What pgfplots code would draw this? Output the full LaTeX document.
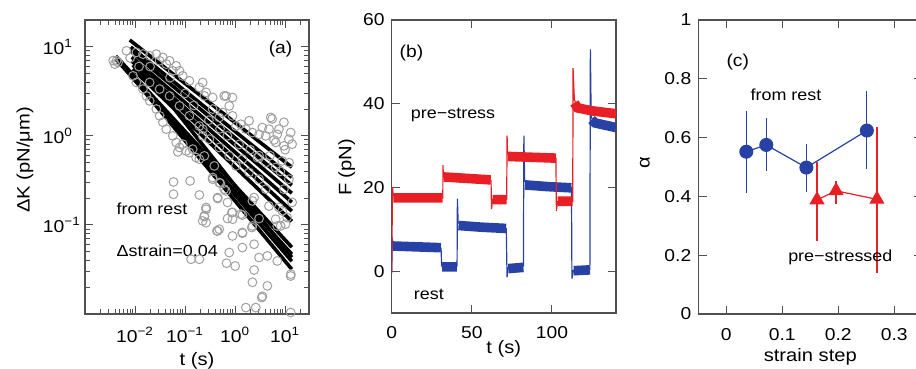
\documentclass[border=0pt]{standalone}
\usepackage{fontspec}
\setmainfont{Liberation Sans}[FakeStretch=1.12]
\usepackage{pgfplots}
\pgfplotsset{compat=1.18}

\definecolor{myred}{RGB}{232,32,38}
\definecolor{myblue}{RGB}{40,65,165}
\definecolor{circgray}{RGB}{160,160,160}
\definecolor{axgray}{RGB}{80,80,80}

\pgfplotsset{
  panel/.style={
    scale only axis,
    axis line style={draw=axgray, line width=0.6pt},
    tick style={draw=axgray, line width=0.5pt},
    major tick length=4.2pt, minor tick length=2.5pt,
    tick label style={font=\fontsize{8.6}{10}\selectfont, text=black},
    label style={font=\fontsize{9}{11}\selectfont},
    /pgf/number format/assume math mode=true,
  },
  fitline/.style={black, line width=1.8pt},
}

\pgfplotstableread{
x y
0.0587 0.304
0.126 0.312
0.0587 0.221
0.193 0.217
0.356 0.326
0.506 0.294
0.656 0.241
0.447 0.198
0.706 0.179
0.263 0.150
0.243 0.124
0.225 0.111
0.863 0.138
0.706 0.118
1.40 0.129
2.22 0.186
1.40 0.0807
0.434 0.0857
2.16 0.0935
0.132 0.0412
0.193 0.0412
0.764 0.049
1.40 0.0557
0.675 0.0372
1.005 0.0346
2.40 0.0312
3.01 0.0431
4.41 0.0449
6.97 0.0394
12.9 0.0267
4.41 0.0207
3.41 0.0153
1.64 0.0118
2.59 0.0118
12.9 0.0104
6.97 0.0975
10.2 0.102
6.47 0.116
3.01 0.118
4.76 0.163
8.75 0.144
13.8 0.179
0.483 0.0895
0.89 0.116
2.40 0.0607
2.22 0.0227
3.51 0.0158
13.0 0.028
0.607 2.81
0.764 2.17
5.15 1.61
9.46 1.42
12.9 1.09
7.53 1.19
4.76 1.19
3.51 1.24
1.91 1.48
1.30 1.35
6.97 1.04
11.9 0.918
13.8 0.807
6.47 0.843
9.46 0.773
4.09 1.0
3.01 1.04
2.22 1.09
1.64 1.19
1.04 1.29
0.887 1.68
0.483 1.61
0.356 2.00
0.243 2.81
0.356 2.70
0.562 1.83
0.356 0.341
0.483 0.299
0.607 0.252
0.447 0.203
0.263 0.157
0.243 0.126
0.263 0.106
0.887 0.138
1.30 0.132
2.40 0.203
4.09 0.252
3.01 0.326
6.47 0.442
8.75 0.524
11.9 0.326
9.46 0.252
7.53 0.157
11.0 0.121
8.15 0.0975
1.40 0.0822
2.22 0.0975
0.447 0.0857
0.887 0.0752
1.40 0.547
1.04 0.460
1.91 0.388
0.764 0.596
2.79 0.571
4.09 0.502
0.483 0.741
0.305 0.918
0.225 1.19
0.243 0.596
0.384 0.460
0.00427 6.97
0.00459 6.68
0.00675 9.02
0.01067 8.65
0.0144 8.28
0.0196 7.93
0.0266 8.28
0.0361 7.60
0.049 6.97
0.0665 6.12
0.0774 5.37
0.031 6.97
0.0421 6.40
0.0569 5.37
0.0899 4.72
0.122 4.15
0.193 3.50
0.263 3.08
0.0169 2.81
0.0196 2.47
0.0266 2.00
0.031 1.68
0.0361 1.42
0.0421 1.19
0.0569 1.0
0.0665 0.843
0.0774 0.741
0.0899 0.807
0.105 0.678
0.122 0.650
0.166 0.571
0.193 0.547
0.0716 0.661
0.142 0.710
0.0144 3.35
0.01067 3.98
0.00912 4.72
0.0196 3.98
0.031 3.35
0.049 2.81
0.0774 2.17
0.122 1.68
0.193 1.29
0.225 1.0
0.00394 6.40
0.00366 7.0
5.5 1.55
0.887 2.70
0.225 3.98
0.66 2.8
0.5 1.2
0.7 1.0
1.2 0.8
2.0 0.7
3.0 0.6
5.0 0.6
8.0 0.4
12.0 0.5
10.0 0.7
6.0 0.9
0.15 2.2
0.1 3.0
0.3 1.5
0.05 4.5
0.02 6.0
0.008 7.5
0.012 6.0
}\circdata

\begin{document}
\begin{tikzpicture}
\useasboundingbox (0,0) rectangle (458pt,-184.5pt);

% ---------------- panel (a) ----------------
\begin{axis}[panel,
  at={(42.5pt,-10pt)}, anchor=north west,
  width=112pt, height=147pt,
  xmode=log, ymode=log,
  xmin=0.001, xmax=30, ymin=0.01, ymax=20,
  xtick={0.001,0.01,0.1,1,10},
  xticklabels={{},{10\textsuperscript{−2}},{10\textsuperscript{−1}},{10\textsuperscript{0}},{10\textsuperscript{1}}},
  ytick={0.01,0.1,1,10},
  yticklabels={{},{10\textsuperscript{−1}},{10\textsuperscript{0}},{10\textsuperscript{1}}},
  minor xtick={0.002,0.003,0.004,0.005,0.006,0.007,0.008,0.009,0.02,0.03,0.04,0.05,0.06,0.07,0.08,0.09,0.2,0.3,0.4,0.5,0.6,0.7,0.8,0.9,2,3,4,5,6,7,8,9,20,30},
  minor ytick={0.02,0.03,0.04,0.05,0.06,0.07,0.08,0.09,0.2,0.3,0.4,0.5,0.6,0.7,0.8,0.9,2,3,4,5,6,7,8,9,20},
  xticklabel style={anchor=center, yshift=-10.5pt},
  yticklabel style={anchor=west, inner sep=0pt, xshift=-21.2pt},
  xlabel={t (s)}, ylabel={ΔK (pN/μm)},
  xlabel style={at={(axis description cs:0.5,0)}, anchor=center, yshift=-23.5pt},
  ylabel style={at={(axis description cs:-0.268,0.524)}, anchor=center},
]
\addplot[only marks, mark=o, mark size=2.2pt, draw=circgray, mark options={line width=0.5pt}] table[x=x,y=y] {\circdata};
\addplot[fitline] coordinates {(0.00785,11.9) (13.6,0.445)};
\addplot[fitline] coordinates {(0.00822,9.93) (13.6,0.343)};
\addplot[fitline] coordinates {(0.00822,8.95) (13.6,0.279)};
\addplot[fitline] coordinates {(0.00859,7.66) (13.6,0.227)};
\addplot[fitline] coordinates {(0.00859,6.91) (13.6,0.180)};
\addplot[fitline] coordinates {(0.0090,6.22) (13.6,0.143)};
\addplot[fitline] coordinates {(0.0090,5.61) (13.6,0.110)};
\addplot[fitline] coordinates {(0.00413,7.87) (13.6,0.0562)};
\addplot[fitline] coordinates {(0.00413,7.28) (13.6,0.0469)};
\addplot[fitline] coordinates {(0.00453,7.47) (13.6,0.0391)};
\addplot[fitline] coordinates {(0.00497,6.73) (13.6,0.0318)};
\addplot[fitline] coordinates {(0.00986,7.28) (13.6,0.0433)};
\node[font=\fontsize{8.6}{10}\selectfont] at (axis cs:8.1,9.4) {(a)};
\node[font=\fontsize{8}{10}\selectfont, anchor=west] at (axis cs:0.0031,0.15) {from rest};
\node[font=\fontsize{8}{10}\selectfont, anchor=west] at (axis cs:0.0031,0.051) {Δstrain=0.04};
\end{axis}

% ---------------- panel (b) ----------------
\begin{axis}[panel,
  at={(195.85pt,-10pt)}, anchor=north west,
  width=112.15pt, height=146.5pt,
  xmin=0, xmax=140, ymin=-10, ymax=60,
  xtick={0,50,100}, ytick={0,20,40,60},
  xticklabel style={anchor=center, yshift=-9.75pt},
  xlabel={t (s)}, ylabel={F (pN)},
  xlabel style={at={(axis description cs:0.5,0)}, anchor=center, yshift=-18.1pt},
  ylabel style={at={(axis description cs:-0.2006,0.497)}, anchor=center},
  unbounded coords=jump,
]
% rest (blue): thin trace
\addplot[myblue, line width=0.6pt] coordinates {
(0,0) (0.4,7.5) (1,6.5) (5,5.8) (30.8,5.5) (31.2,1.2) (40.8,1.2) (41,17.3) (41.5,11.5)
(71.5,10.2) (72,-1.5) (72.5,0.8) (82.2,1.2) (82.5,32.4) (83,21.5) (112.2,20) (112.5,-1.8)
(113.5,0.2) (123.7,0.4) (124,53) (124.5,37) (126,35.5) (140,34.4)};
% rest (blue): noisy plateaus
\addplot[myblue, line width=4.8pt] coordinates {
(0.8,6.0) (30.7,5.6) (30.7,nan)
(31.4,1.0) (40.7,1.0) (40.7,nan)
(41.7,10.9) (56,10.5) (71.4,10.2) (71.4,nan)
(72.7,0.6) (82.2,0.9) (82.2,nan)
(83.2,20.6) (97,20.2) (112.1,19.9) (112.1,nan)
(113.6,0.1) (123.7,0.3) (123.7,nan)
(124.7,36.2) (127,35.4) (140,34.3)};
% pre-stress (red): thin trace
\addplot[myred, line width=0.6pt] coordinates {
(0,-0.5) (0.5,20) (1,18) (31.9,17.5) (32,25.3) (32.3,22.5) (62,21.6) (62.3,14.8) (63,17.2)
(71.8,17.2) (72,32.4) (72.4,28) (102.5,27) (102.8,14.4) (103.5,16.6) (113,16.6) (113.2,48.5)
(114,41) (116,39) (140,37.8)};
% pre-stress (red): noisy plateaus
\addplot[myred, line width=4.8pt] coordinates {
(1,17.5) (31.8,17.5) (31.8,nan)
(32.5,22.5) (45,22.2) (61.8,21.8) (61.8,nan)
(63,17.1) (71.8,17.1) (71.8,nan)
(72.5,27.4) (102.5,27.0) (102.5,nan)
(103.5,16.7) (113,16.7) (113,nan)
(114,40.2) (116,39.0) (125,38.3) (140,37.6)};
\node[font=\fontsize{8.6}{10}\selectfont] at (axis cs:12.3,52.1) {(b)};
\node[font=\fontsize{8}{10}\selectfont] at (axis cs:38.3,37.4) {pre−stress};
\node[font=\fontsize{8}{10}\selectfont] at (axis cs:23.2,-5.5) {rest};
\end{axis}

% ---------------- panel (c) ----------------
\begin{axis}[panel,
  at={(349.15pt,-10pt)}, anchor=north west,
  width=112pt, height=147pt,
  xmin=-0.05, xmax=0.35, ymin=0, ymax=1,
  xtick={0,0.1,0.2,0.3}, ytick={0,0.2,0.4,0.6,0.8,1},
  xticklabel style={anchor=center, yshift=-10.5pt},
  xlabel={strain step}, ylabel={α},
  xlabel style={at={(axis description cs:0.5,0)}, anchor=center, yshift=-21.3pt},
  ylabel style={at={(axis description cs:-0.238,0.515)}, anchor=center},
]
\addplot[myblue, line width=0.6pt, mark=*, mark size=3.2pt, mark options={fill=myblue, draw=myblue},
  error bars/.cd, y dir=both, y explicit, error mark=none, error bar style={line width=0.6pt, myblue}]
  coordinates {
  (0.0357,0.552) += (0,0.138) -= (0,0.139)
  (0.0714,0.575) += (0,0.091) -= (0,0.089)
  (0.143,0.498) += (0,0.080) -= (0,0.084)
  (0.251,0.624) += (0,0.136) -= (0,0.131)
  };
\addplot[myred, line width=0.6pt, mark=triangle*, mark size=3.8pt, mark options={fill=myred, draw=myred},
  error bars/.cd, y dir=both, y explicit, error mark=none, error bar style={line width=0.6pt, myred}]
  coordinates {
  (0.162,0.388) += (0,0.128) -= (0,0.139)
  (0.196,0.419) += (0,0.034) -= (0,0.045)
  (0.269,0.390) += (0,0.247) -= (0,0.250)
  };
\node[font=\fontsize{8.6}{10}\selectfont] at (axis cs:0.0205,0.858) {(c)};
\node[font=\fontsize{8}{10}\selectfont] at (axis cs:0.1066,0.745) {from rest};
\node[font=\fontsize{8}{10}\selectfont] at (axis cs:0.2036,0.193) {pre−stressed};
\end{axis}
\end{tikzpicture}
\end{document}
